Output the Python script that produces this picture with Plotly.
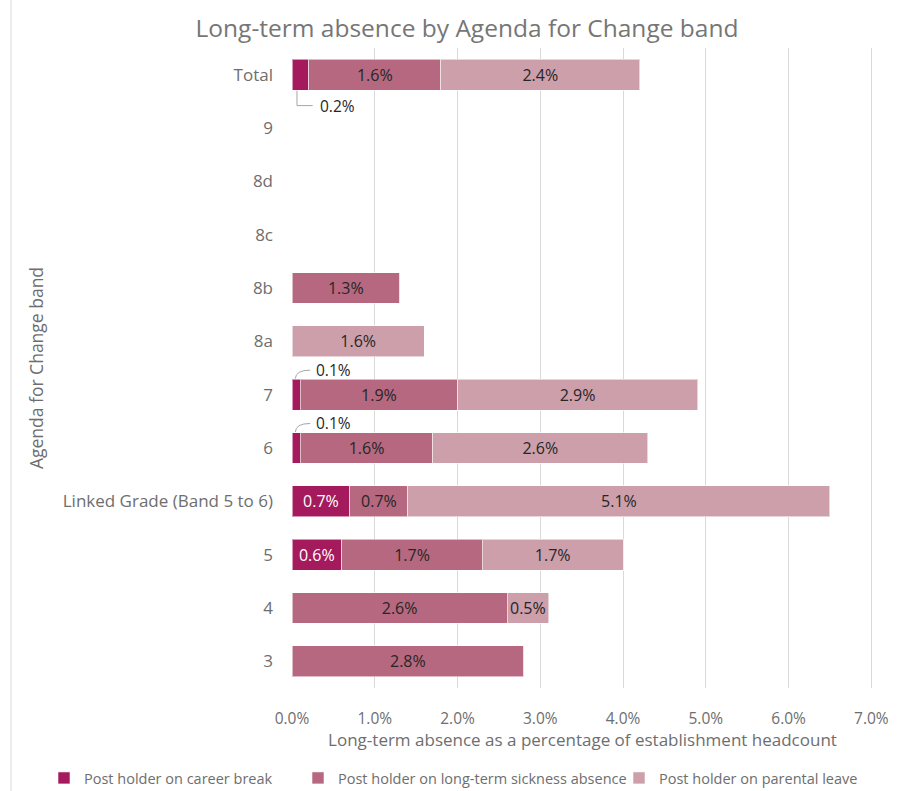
import plotly.graph_objects as go

# Agenda for Change bands, listed bottom-to-top
bands = ["3", "4", "5", "Linked Grade (Band 5 to 6)", "6", "7", "8a", "8b", "8c", "8d", "9", "Total"]

# Long-term absence as % of establishment headcount
career_break = [0.0, 0.0, 0.6, 0.7, 0.1, 0.1, 0.0, 0.0, 0.0, 0.0, 0.0, 0.2]
sickness = [2.8, 2.6, 1.7, 0.7, 1.6, 1.9, 0.0, 1.3, 0.0, 0.0, 0.0, 1.6]
parental = [0.0, 0.5, 1.7, 5.1, 2.6, 2.9, 1.6, 0.0, 0.0, 0.0, 0.0, 2.4]

series_names = [
    "Post holder on career break",
    "Post holder on long-term sickness absence",
    "Post holder on parental leave",
]
colors = ["#A41A5D", "#B5687F", "#CC9FAB"]
text_colors = ["#FFFFFF", "#262626", "#262626"]
legend_ids = ["legend", "legend2", "legend3"]
legend_left_px = [44, 298, 619]

x_ticks = [0, 1, 2, 3, 4, 5, 6, 7]
x_tick_labels = ["0.0%", "1.0%", "2.0%", "3.0%", "4.0%", "5.0%", "6.0%", "7.0%"]

FONT = "Open Sans"
GREY = "#6E6E6E"
W, H = 903, 791

fig = go.Figure()
for name, vals, col, tcol, lg in zip(series_names, [career_break, sickness, parental],
                                      colors, text_colors, legend_ids):
    labels = [f"{v:.1f}%" if v >= 0.3 else "" for v in vals]
    fig.add_trace(go.Bar(
        y=bands, x=vals, name=name, orientation="h", legend=lg,
        marker=dict(color=col, line=dict(color="rgba(255,255,255,0.55)", width=1)),
        text=labels, textposition="inside", insidetextanchor="middle",
        textfont=dict(family=FONT, size=16, color=tcol),
        constraintext="none", hoverinfo="x+name",
    ))

# Small career-break values labelled outside the bar with leader lines
shapes = []
annotations = []
for i, v in enumerate(career_break):
    if 0 < v < 0.3:
        xm = v / 2
        if bands[i] == "Total":
            yl = i - 0.58
            shapes.append(dict(type="path", xref="x", yref="y",
                               path=f"M {xm*0.6},{i-0.3} L {xm*0.6},{yl} L {xm+0.15},{yl}",
                               line=dict(color="#A6A6A6", width=1)))
        else:
            yl = i + 0.46
            shapes.append(dict(type="path", xref="x", yref="y",
                               path=f"M {xm*0.8},{i+0.3} Q {xm*0.9},{yl} {xm+0.17},{yl}",
                               line=dict(color="#A6A6A6", width=1)))
        annotations.append(dict(x=xm + 0.22, y=yl, xref="x", yref="y", text=f"{v:.1f}%",
                                showarrow=False, xanchor="left", yanchor="middle",
                                font=dict(family=FONT, size=15.5, color="#262626")))

# Thin frame line at the left of the chart area
shapes.append(dict(type="line", xref="paper", yref="paper",
                   x0=(11 - 292) / 581, x1=(11 - 292) / 581, y0=-0.2, y1=1.1,
                   line=dict(color="#D9D9D9", width=1)))

legend_style = dict(orientation="h", xanchor="left", xref="container",
                    y=1 - 778 / H, yanchor="middle", yref="container",
                    font=dict(family=FONT, size=14.5, color=GREY),
                    itemwidth=30, bgcolor="rgba(0,0,0,0)")

fig.update_layout(
    width=W, height=H,
    margin=dict(l=292, r=30, t=48, b=103, autoexpand=False),
    paper_bgcolor="white", plot_bgcolor="white",
    barmode="stack", bargap=0.42,
    font=dict(family=FONT, color=GREY),
    title=dict(text="Long-term absence by Agenda for Change band",
               x=467 / W, xref="container", xanchor="center",
               y=1 - 28 / H, yref="container", yanchor="middle",
               font=dict(family=FONT, size=24.5, color="#767676")),
    xaxis=dict(range=[0, 7.02], tickvals=x_ticks, ticktext=x_tick_labels,
               showgrid=True, gridcolor="#D9D9D9", gridwidth=1,
               zeroline=False, showline=False, ticks="",
               ticklabelstandoff=19,
               tickfont=dict(family=FONT, size=15.5, color=GREY),
               title=dict(text="Long-term absence as a percentage of establishment headcount",
                          font=dict(family=FONT, size=17, color=GREY), standoff=5)),
    yaxis=dict(categoryorder="array", categoryarray=bands, range=[-0.5, 11.5],
               showgrid=False, zeroline=False, showline=False, ticks="",
               ticklabelstandoff=18,
               tickfont=dict(family=FONT, size=17, color=GREY),
               title=dict(text="Agenda for Change band",
                          font=dict(family=FONT, size=17.5, color=GREY), standoff=14)),
    shapes=shapes, annotations=annotations,
    showlegend=True,
)
for lg, px in zip(legend_ids, legend_left_px):
    fig.update_layout({lg: dict(legend_style, x=px / W)})

fig.write_html("out.html")
